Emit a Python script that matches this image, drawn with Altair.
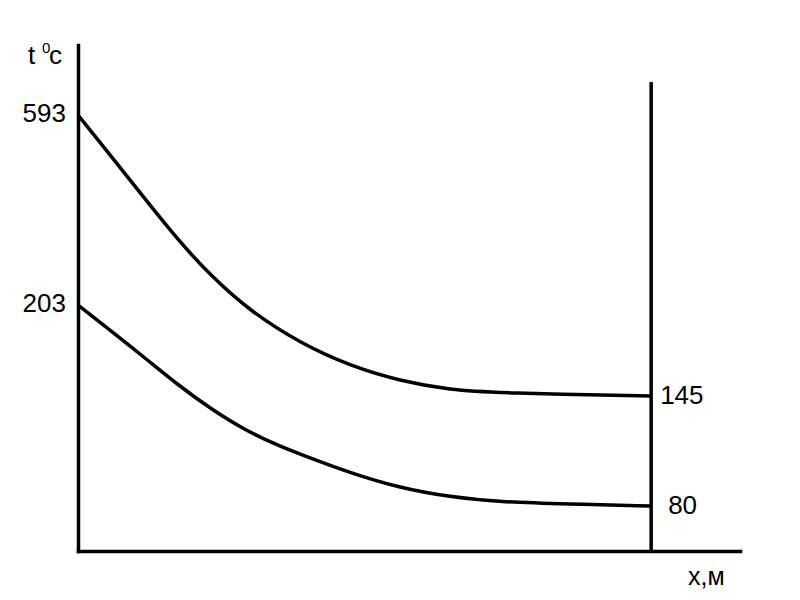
import altair as alt
import pandas as pd

# Schematic chart: x in % of the channel length, y in relative drawing units
upper_x = [0, 5.76, 11.7, 17.45, 23.2, 30.0, 38.7, 47.5, 56.2, 64.9, 73.6, 100]
upper_y = [436, 395, 352, 311, 275, 240, 208, 185, 170, 161, 158, 155]
lower_x = [0, 5.76, 11.7, 17.45, 23.2, 29.1, 35.1, 38.7, 47.5, 56.2, 64.9, 73.6, 85.3, 100]
lower_y = [246, 220, 193, 166, 142, 121, 105, 97, 78, 63, 54, 49, 47, 45]

left_labels = ["593", "203"]
right_labels = ["145", "80"]

FONT = "Liberation Sans"

curves = pd.DataFrame(
    {"x": upper_x + lower_x,
     "y": upper_y + lower_y,
     "curve": ["upper"] * len(upper_x) + ["lower"] * len(lower_x)}
)

xs = alt.Scale(domain=[0, 115.5], nice=False, zero=False)
ys = alt.Scale(domain=[0, 506], nice=False, zero=False)

ax_x = alt.Axis(title=None, labels=False, ticks=False, grid=False,
                domainColor="black", domainWidth=3.5, domainCap="square")
ax_y = alt.Axis(title=None, labels=False, ticks=False, grid=False,
                domainColor="black", domainWidth=3.5, domainCap="square")

base_lines = alt.Chart(curves).mark_line(
    color="black", strokeWidth=3.5, interpolate="basis"
).encode(
    x=alt.X("x:Q", scale=xs, axis=ax_x),
    y=alt.Y("y:Q", scale=ys, axis=ax_y),
    detail="curve:N",
)

right_line = alt.Chart(pd.DataFrame({"x": [100], "y": [-1], "y2": [469]})).mark_rule(
    color="black", strokeWidth=3.5
).encode(x=alt.X("x:Q", scale=xs), y=alt.Y("y:Q", scale=ys), y2="y2:Q")

left_df = pd.DataFrame({"x": [0, 0], "y": [upper_y[0], lower_y[0]], "t": left_labels})
left_text = alt.Chart(left_df).mark_text(
    font=FONT, fontSize=26, align="right", baseline="middle", dx=-12, dy=-1, color="black"
).encode(x=alt.X("x:Q", scale=xs), y=alt.Y("y:Q", scale=ys), text="t:N")

r1 = alt.Chart(pd.DataFrame({"x": [100], "y": [upper_y[-1]], "t": [right_labels[0]]})).mark_text(
    font=FONT, fontSize=26, align="left", baseline="middle", dx=9, color="black"
).encode(x=alt.X("x:Q", scale=xs), y=alt.Y("y:Q", scale=ys), text="t:N")

r2 = alt.Chart(pd.DataFrame({"x": [100], "y": [lower_y[-1]], "t": [right_labels[1]]})).mark_text(
    font=FONT, fontSize=26, align="left", baseline="middle", dx=17, color="black"
).encode(x=alt.X("x:Q", scale=xs), y=alt.Y("y:Q", scale=ys), text="t:N")

t_lbl = alt.Chart(pd.DataFrame({"t": ["t"]})).mark_text(
    font=FONT, fontSize=26, align="left", baseline="alphabetic", color="black"
).encode(x=alt.value(-50), y=alt.value(19), text="t:N")
zero_lbl = alt.Chart(pd.DataFrame({"t": ["0"]})).mark_text(
    font=FONT, fontSize=15, align="left", baseline="alphabetic", color="black"
).encode(x=alt.value(-36), y=alt.value(8), text="t:N")
c_lbl = alt.Chart(pd.DataFrame({"t": ["c"]})).mark_text(
    font=FONT, fontSize=26, align="left", baseline="alphabetic", color="black"
).encode(x=alt.value(-29), y=alt.value(19), text="t:N")
x_lbl = alt.Chart(pd.DataFrame({"t": ["x,м"]})).mark_text(
    font=FONT, fontSize=25, align="left", baseline="alphabetic", color="black"
).encode(x=alt.value(610), y=alt.value(540), text="t:N")

chart = alt.layer(
    base_lines, right_line, left_text, r1, r2, t_lbl, zero_lbl, c_lbl, x_lbl
).properties(
    width=662, height=506,
    autosize=alt.AutoSizeParams(type="none"),
    padding={"left": 70, "top": 37, "right": 52, "bottom": 41},
    background="white",
).configure_view(stroke=None)

chart.save("out.html", embed_options={"renderer": "svg", "actions": False})
